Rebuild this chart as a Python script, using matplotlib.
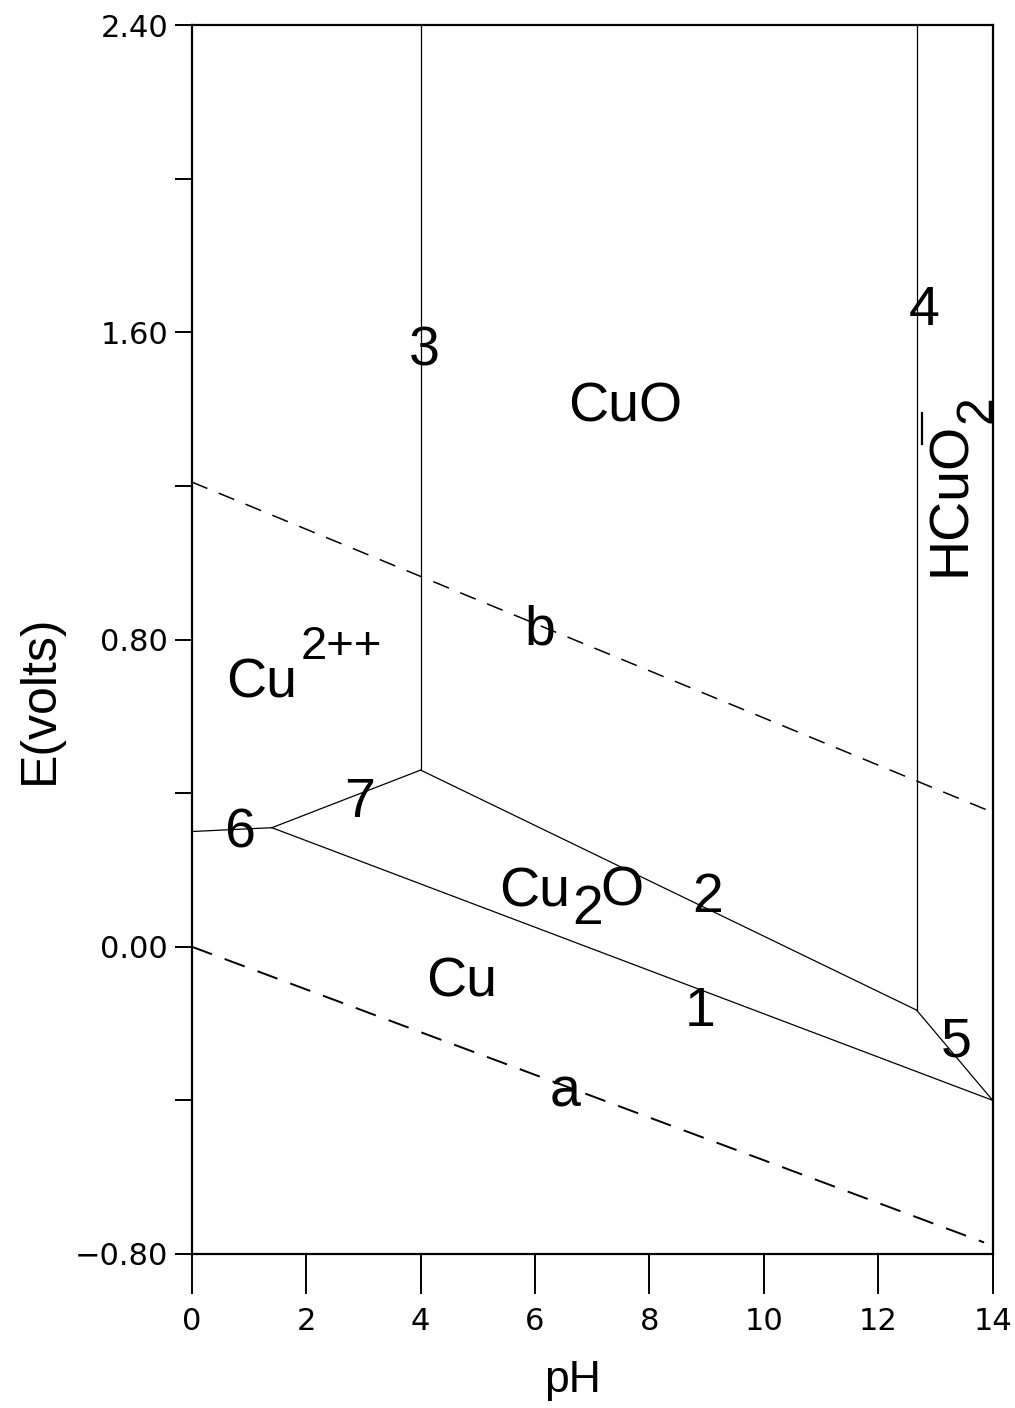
import matplotlib
matplotlib.use('Agg')
import matplotlib.pyplot as plt

plt.rcParams['font.family'] = ['Liberation Sans', 'DejaVu Sans']

# Frontieres du diagramme E-pH du cuivre
ph_1 = [1.4, 14.0]
e_1 = [0.31, -0.40]
ph_2 = [4.0, 12.67]
e_2 = [0.46, -0.165]
ph_3 = [4.0, 4.0]
e_3 = [0.46, 2.40]
ph_4 = [12.67, 12.67]
e_4 = [-0.165, 2.40]
ph_5 = [12.67, 14.0]
e_5 = [-0.165, -0.40]
ph_6 = [0.0, 1.4]
e_6 = [0.30, 0.31]
ph_7 = [1.4, 4.0]
e_7 = [0.31, 0.46]

# Droites de stabilite de l'eau
ph_a = [0.0, 13.85]
e_a = [0.0, -0.77]
ph_b = [0.0, 14.0]
e_b = [1.21, 0.35]

x_ticks = [0, 2, 4, 6, 8, 10, 12, 14]
y_major = [-0.80, 0.00, 0.80, 1.60, 2.40]
y_minor = [-0.40, 0.40, 1.20, 2.00]
y_labels = ['\u22120.80', '0.00', '0.80', '1.60', '2.40']

fig = plt.figure(figsize=(10.15, 14.08), dpi=100)
ax = fig.add_axes([0.189, 0.1094, 0.789, 0.8728])

for xs, ys in [(ph_1, e_1), (ph_2, e_2), (ph_3, e_3), (ph_4, e_4),
               (ph_5, e_5), (ph_6, e_6), (ph_7, e_7)]:
    ax.plot(xs, ys, color='black', lw=0.9)

ax.plot(ph_a, e_a, color='black', lw=1.4, dashes=(11, 7))
ax.plot(ph_b, e_b, color='black', lw=1.1, dashes=(11, 8))

ax.set_xlim(0, 14)
ax.set_ylim(-0.80, 2.40)

for s in ax.spines.values():
    s.set_linewidth(1.6)

ax.set_xticks(x_ticks)
ax.set_xticklabels([str(v) for v in x_ticks], fontsize=22, family='DejaVu Sans')
ax.set_yticks(y_major)
ax.set_yticklabels(y_labels, fontsize=22, family='DejaVu Sans')
ax.set_yticks(y_minor, minor=True)
ax.tick_params(axis='x', direction='out', length=29, width=1.4, pad=9)
ax.tick_params(axis='y', which='both', direction='out', length=12, width=1.4, pad=5)

ax.set_xlabel('pH', fontsize=32)
ax.xaxis.set_label_coords(0.476, -0.086)
ax.set_ylabel('E(volts)', fontsize=36)
ax.yaxis.set_label_coords(-0.161, 0.451)

# Noms des especes
fs = 40
ax.text(7.57, 1.405, 'CuO', fontsize=fs, ha='center', va='center')
ax.text(1.22, 0.686, 'Cu', fontsize=fs, ha='center', va='center')
ax.text(2.62, 0.78, '2++', fontsize=34, ha='center', va='center')
ax.text(6.0, 0.14, 'Cu', fontsize=fs, ha='center', va='center')
ax.text(6.92, 0.095, '2', fontsize=fs, ha='center', va='center')
ax.text(7.52, 0.145, 'O', fontsize=fs, ha='center', va='center')
ax.text(4.72, -0.094, 'Cu', fontsize=fs, ha='center', va='center')
ax.text(13.27, 1.165, 'HCuO', fontsize=fs, ha='center', va='center', rotation=90)
ax.text(13.74, 1.40, '2', fontsize=36, ha='center', va='center', rotation=90)
ax.plot([12.76, 12.76], [1.31, 1.39], color='black', lw=1.6)

# Numeros des frontieres
ax.text(4.07, 1.55, '3', fontsize=fs, ha='center', va='center')
ax.text(12.81, 1.655, '4', fontsize=fs, ha='center', va='center')
ax.text(6.08, 0.823, 'b', fontsize=fs, ha='center', va='center')
ax.text(2.94, 0.374, '7', fontsize=fs, ha='center', va='center')
ax.text(0.84, 0.296, '6', fontsize=fs, ha='center', va='center')
ax.text(9.02, 0.127, '2', fontsize=fs, ha='center', va='center')
ax.text(8.88, -0.171, '1', fontsize=fs, ha='center', va='center')
ax.text(13.37, -0.249, '5', fontsize=fs, ha='center', va='center')
ax.text(6.52, -0.379, 'a', fontsize=fs, ha='center', va='center')

fig.savefig('out.png', dpi=100)
